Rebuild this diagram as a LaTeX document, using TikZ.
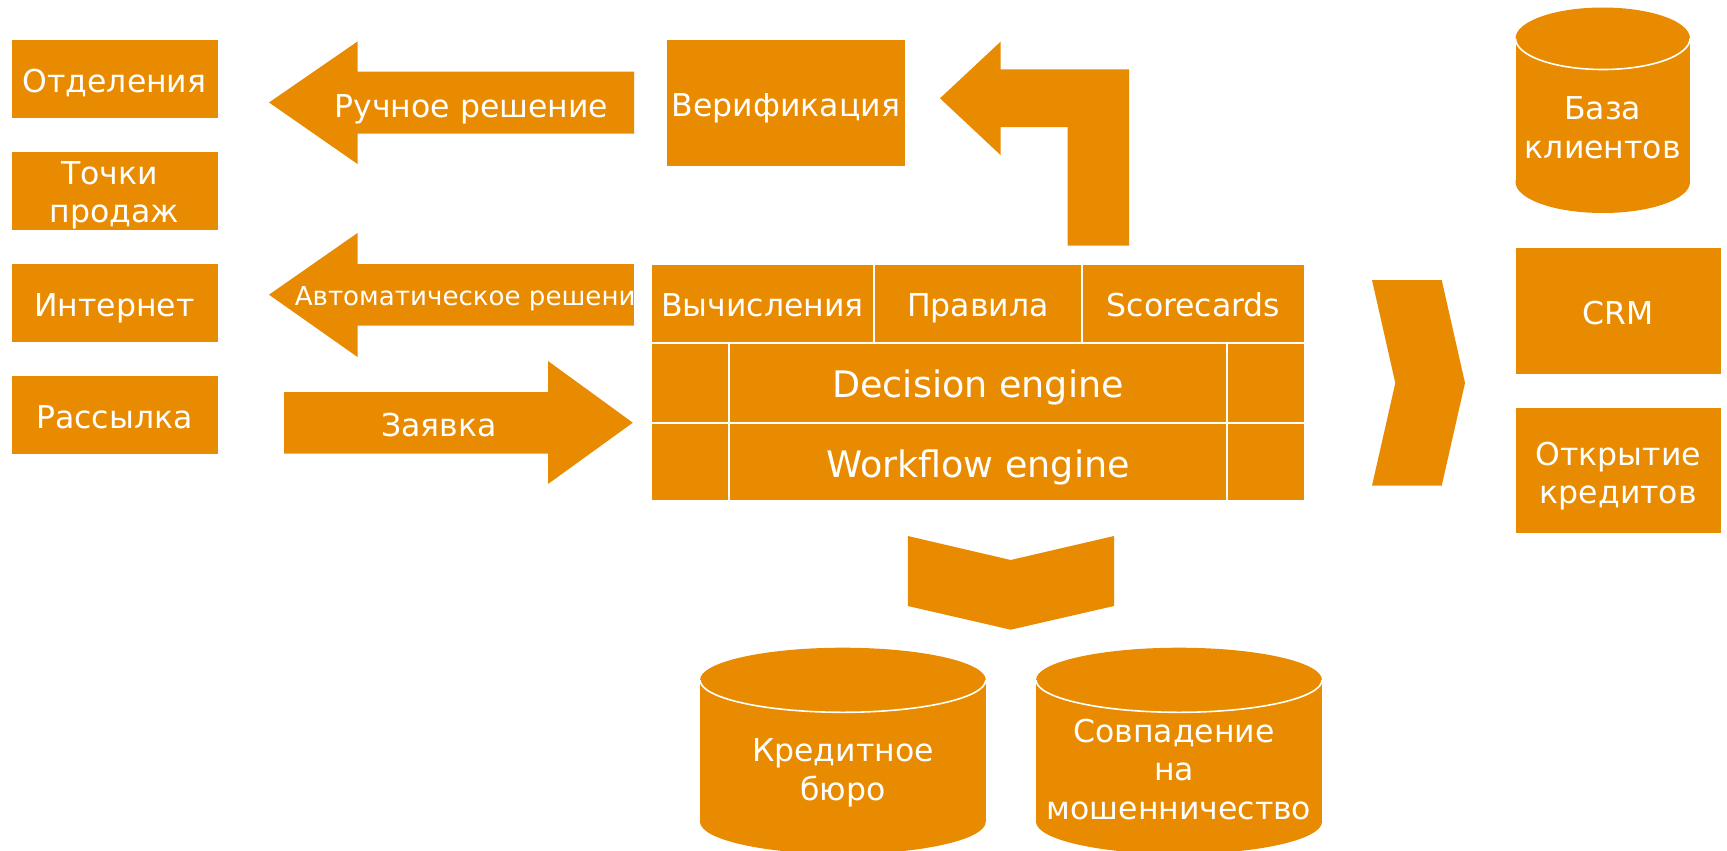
\documentclass[tikz,border=0pt]{standalone}
\usepackage{fontspec}
\setmainfont{DejaVu Sans}
\definecolor{orgc}{RGB}{232,139,0}
\newcommand\fsN{\fontsize{31.5pt}{38.4pt}\selectfont}
\newcommand\fsB{\fontsize{36.5pt}{44pt}\selectfont}
\newcommand\fsA{\fontsize{26.1pt}{30pt}\selectfont}
\begin{document}
\begin{tikzpicture}[x=1pt,y=-1pt,
  box/.style={fill=orgc, inner sep=0pt, outer sep=0pt, text=white, font=\fsN, text height=27pt, text depth=0pt},
  cell/.style={box, draw=white, line width=2pt},
  bigcell/.style={cell, font=\fsB, text height=30.5pt},
  txt/.style={text=white, inner sep=0pt, align=center, font=\fsN},
  arrtxt/.style={text=white, inner sep=0pt, font=\fsN, text height=26pt, text depth=0pt},
  shp/.style={fill=orgc},
  rim/.style={draw=white, line width=1.6pt}]
\useasboundingbox (0,0) rectangle (1727,851);
\clip (0,0) rectangle (1727,851);

% left boxes
\node[box, minimum width=206pt, minimum height=77.5pt] (otd) at (114.5,78.75) {Отделения};
\node[box, minimum width=206pt, minimum height=77.5pt] (tochki) at (114.5,190.85) {};
\node[txt, anchor=north] (tochkit) at (114.5,161) {Точки\kern0.32em\\продаж};
\node[box, minimum width=206pt, minimum height=77.5pt] (inet) at (114.5,302.85) {Интернет};
\node[box, minimum width=206pt, minimum height=77.5pt] (rass) at (114.5,414.85) {Рассылка};

% arrow: manual decision
\path[shp] (269,102.5) -- (357.5,41.5) -- (357.5,71.7) -- (634,71.7) -- (634,133.7) -- (357.5,133.7) -- (357.5,164) -- cycle;
\node[arrtxt] (manual) at (471.3,104.2) {Ручное решение};

% arrow: automatic decision (text clipped)
\begin{scope}
\clip (269,294.7) -- (357.5,233) -- (357.5,264) -- (634,264) -- (634,325.7) -- (357.5,325.7) -- (357.5,357) -- cycle;
\path[shp] (269,294.7) -- (357.5,233) -- (357.5,264) -- (634,264) -- (634,325.7) -- (357.5,325.7) -- (357.5,357) -- cycle;
\node[arrtxt, font=\fsA, text height=21pt, anchor=west] (auto) at (294.6,295.2) {Автоматическое решение};
\end{scope}

% arrow: application
\path[shp] (284,392) -- (548,392) -- (548,361) -- (632.8,422.7) -- (548,484) -- (548,453.7) -- (284,453.7) -- cycle;
\node[arrtxt] (zayavka) at (438.8,423.3) {Заявка};

% verification
\node[box, minimum width=238pt, minimum height=125.6pt] (verif) at (786,102.8) {Верификация};

% bent arrow
\path[shp] (940,98.3) -- (1000.5,41.7) -- (1000.5,69.3) -- (1129,69.3) -- (1129,245.7) -- (1067.5,245.7) -- (1067.5,127) -- (1000.5,127) -- (1000.5,155) -- cycle;

% engine table
\node[cell, minimum width=223pt, minimum height=78.7pt] (calc) at (762.5,303.35) {Вычисления};
\node[cell, minimum width=208pt, minimum height=78.7pt] (rules) at (978,303.35) {Правила};
\node[cell, minimum width=223pt, minimum height=78.7pt] (score) at (1193.5,303.35) {Scorecards};
\node[cell, minimum width=78pt, minimum height=80pt] (dl) at (690,382.7) {};
\node[bigcell, minimum width=498pt, minimum height=80pt] (decision) at (978,382.7) {Decision engine};
\node[cell, minimum width=78pt, minimum height=80pt] (dr) at (1266,382.7) {};
\node[cell, minimum width=78pt, minimum height=78.3pt] (wl) at (690,461.85) {};
\node[bigcell, minimum width=498pt, minimum height=78.3pt] (workflow) at (978,461.85) {Workflow engine};
\node[cell, minimum width=78pt, minimum height=78.3pt] (wr) at (1266,461.85) {};

% chevrons
\path[shp] (1372,280) -- (1441.7,280) -- (1465,383) -- (1441.7,485.7) -- (1372,485.7) -- (1395.3,383) -- cycle;
\path[shp] (907.8,536) -- (1010.7,560) -- (1114,536) -- (1114,606) -- (1010.7,629.7) -- (907.8,606) -- cycle;

% client base cylinder
\path[shp] (1515.5,38.5) rectangle (1690,182);
\path[shp] (1602.75,182) ellipse [x radius=87.25, y radius=31];
\path[shp] (1602.75,38.5) ellipse [x radius=87.25, y radius=31];
\path[rim] (1515.5,38.5) arc[start angle=180, end angle=0, x radius=87.25, y radius=31];
\node[txt, anchor=north] (baza) at (1602.75,96.5) {База\\клиентов};

% right boxes
\node[box, minimum width=205.5pt, minimum height=125.5pt] (crm) at (1618.25,310.75) {CRM};
\node[box, minimum width=205.5pt, minimum height=125.5pt] (otkr) at (1618.25,470.25) {};
\node[txt, anchor=north] (otkrt) at (1618.25,441.5) {Открытие\\кредитов};

% bottom cylinders
\path[shp] (700,680) rectangle (985.8,821.7);
\path[shp] (842.9,821.7) ellipse [x radius=142.9, y radius=32.3];
\path[shp] (842.9,680) ellipse [x radius=142.9, y radius=32.3];
\path[rim] (700,680) arc[start angle=180, end angle=0, x radius=142.9, y radius=32.3];
\node[txt, anchor=north] (bureau) at (842.9,738.5) {Кредитное\\бюро};

\path[shp] (1036,680) rectangle (1322,821.7);
\path[shp] (1179,821.7) ellipse [x radius=143, y radius=32.3];
\path[shp] (1179,680) ellipse [x radius=143, y radius=32.3];
\path[rim] (1036,680) arc[start angle=180, end angle=0, x radius=143, y radius=32.3];
\node[txt, anchor=north] (fraud) at (1179,719) {Совпадение\kern0.32em\\на\kern0.32em\\мошенничество};
\end{tikzpicture}
\end{document}
